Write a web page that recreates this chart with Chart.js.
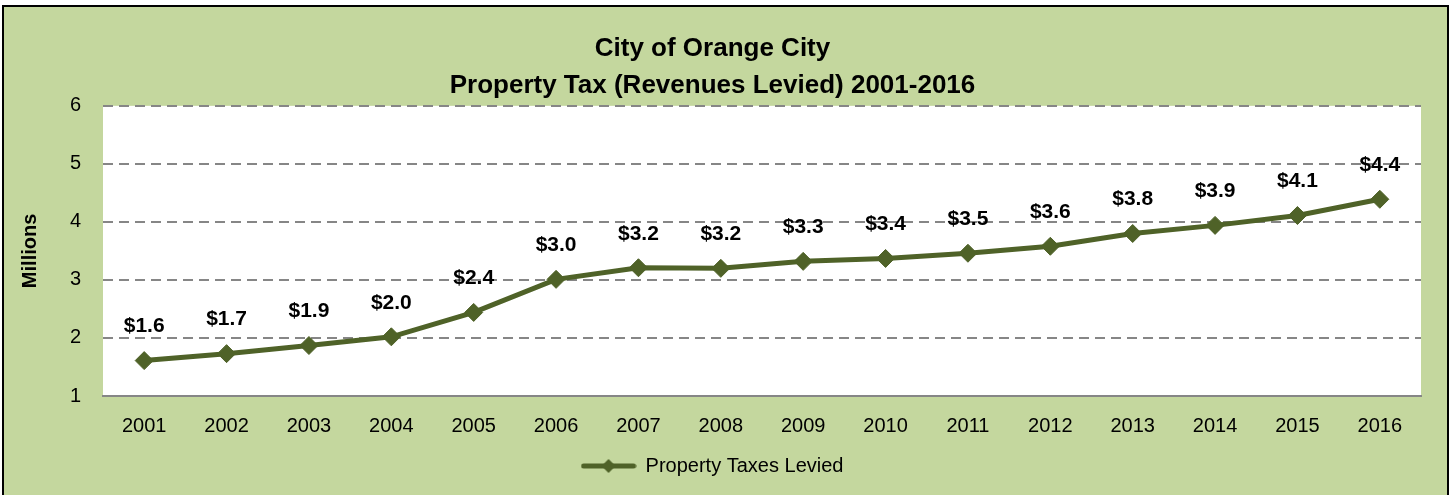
<!DOCTYPE html>
<html>
<head>
<meta charset="utf-8">
<script src="https://cdn.jsdelivr.net/npm/chart.js@4.4.0/dist/chart.umd.min.js"></script>
<style>
  html,body{margin:0;padding:0;background:#fff;overflow:hidden}
  #box{position:absolute;left:2px;top:5px;width:1443px;height:488px;border:2px solid #000;background:#C4D79E}
  #box canvas{display:block}
</style>
</head>
<body>
<div id="box"><canvas id="c" width="1443" height="488"></canvas></div>
<script>
// data
const years=['2001','2002','2003','2004','2005','2006','2007','2008','2009','2010','2011','2012','2013','2014','2015','2016'];
const levied=[1.61,1.73,1.87,2.02,2.44,3.01,3.21,3.20,3.32,3.37,3.46,3.58,3.80,3.94,4.11,4.39];
const seriesName='Property Taxes Levied';
const titleLines=['City of Orange City','Property Tax (Revenues Levied) 2001-2016'];
const yTicks=[1,2,3,4,5,6];

const olive='#4F6228';
const FONT='"Liberation Sans", Arial, sans-serif';

// legend symbol: line with diamond
const sym=document.createElement('canvas');
sym.width=56;sym.height=20;
(function(){
  const g=sym.getContext('2d');
  g.strokeStyle=olive;g.lineWidth=5;g.lineCap='round';
  g.beginPath();g.moveTo(3,10);g.lineTo(53,10);g.stroke();
  g.fillStyle=olive;g.beginPath();
  g.moveTo(28,3);g.lineTo(35,10);g.lineTo(28,17);g.lineTo(21,10);g.closePath();g.fill();
})();

// value labels above points
const valueLabels={
  id:'valueLabels',
  afterDatasetsDraw(chart){
    const ctx=chart.ctx;
    const meta=chart.getDatasetMeta(0);
    ctx.save();
    ctx.font='bold 21px '+FONT;
    ctx.fillStyle='#000';
    ctx.textAlign='center';
    ctx.textBaseline='middle';
    meta.data.forEach(function(p,i){
      ctx.fillText('$'+levied[i].toFixed(1),p.x,p.y-34);
    });
    ctx.restore();
  }
};

// white plot area
const plotBg={
  id:'plotBg',
  beforeDraw(chart){
    const a=chart.chartArea,ctx=chart.ctx;
    ctx.save();ctx.fillStyle='#fff';
    ctx.fillRect(a.left,a.top,a.right-a.left,a.bottom-a.top);
    ctx.restore();
  }
};

new Chart(document.getElementById('c'),{
  type:'line',
  data:{labels:years,datasets:[{
    label:seriesName,data:levied,
    borderColor:olive,backgroundColor:olive,borderWidth:5,
    pointStyle:'rectRot',pointRadius:9,pointHoverRadius:9,
    pointBackgroundColor:olive,pointBorderColor:olive,pointBorderWidth:1,
    tension:0
  }]},
  options:{
    responsive:false,animation:false,
    layout:{padding:{left:0,right:26,top:0,bottom:9}},
    plugins:{
      tooltip:{enabled:false},
      title:{display:true,text:titleLines,color:'#000',
        font:{family:FONT,size:26,weight:'bold',lineHeight:1.42},
        padding:{top:23,bottom:2}},
      legend:{position:'bottom',
        labels:{usePointStyle:true,pointStyleWidth:54,color:'#000',
          font:{family:FONT,size:20},padding:8,
          generateLabels:function(){
            return [{text:seriesName,pointStyle:sym,fillStyle:olive,strokeStyle:olive,lineWidth:0,fontColor:'#000',datasetIndex:0}];
          }}}
    },
    scales:{
      x:{offset:true,
        grid:{display:false},
        border:{display:true,color:'#868686',width:2},
        ticks:{color:'#000',font:{family:FONT,size:20},padding:10}},
      y:{min:1,max:6,
        afterBuildTicks:function(s){s.ticks=yTicks.map(function(v){return {value:v}})},
        afterFit:function(s){s.width=99},
        grid:{color:function(c){return c.tick&&c.tick.value===1?'rgba(0,0,0,0)':'#868686'},lineWidth:2,drawTicks:false},
        border:{display:false,dash:[10,6]},
        title:{display:true,text:'Millions',color:'#000',font:{family:FONT,size:20,weight:'bold'},padding:{top:14,bottom:0}},
        ticks:{color:'#000',font:{family:FONT,size:20},padding:22}}
    }
  },
  plugins:[plotBg,valueLabels]
});
</script>
</body>
</html>
